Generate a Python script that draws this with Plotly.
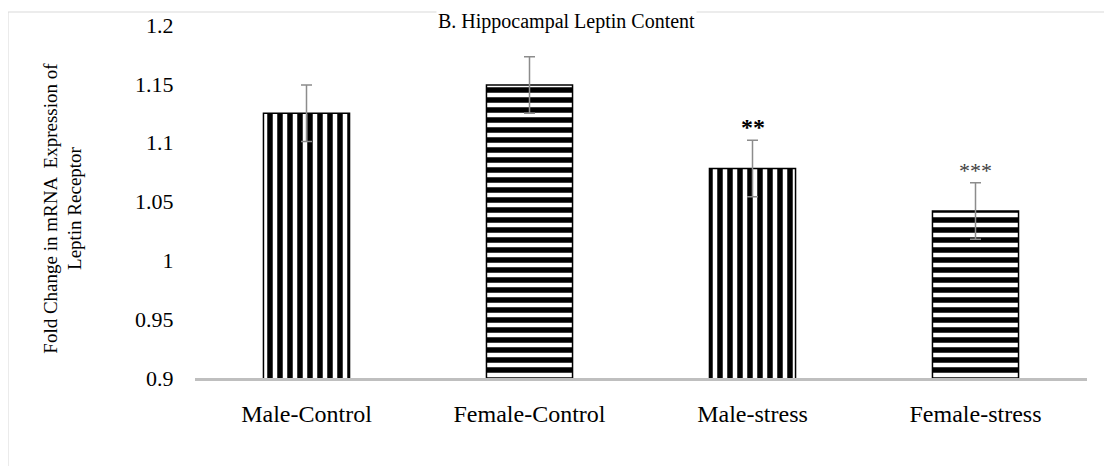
import plotly.graph_objects as go

categories = ["Male-Control", "Female-Control", "Male-stress", "Female-stress"]
values = [1.125, 1.149, 1.078, 1.042]
errors = [0.024, 0.024, 0.024, 0.024]
patterns = ["|", "-", "|", "-"]
significance = ["", "", "<b>**</b>", "***"]
y_ticks = [0.9, 0.95, 1.0, 1.05, 1.1, 1.15, 1.2]
y_tick_text = ["0.9", "0.95", "1", "1.05", "1.1", "1.15", "1.2"]

FONT = "Liberation Serif"
TOP = 17
BOTTOM = 96
PLOT_H = 466 - TOP - BOTTOM

fig = go.Figure()
fig.add_trace(go.Bar(
    x=categories,
    y=values,
    marker=dict(
        color="white",
        line=dict(color="black", width=1.5),
        pattern=dict(shape=patterns, fgcolor="black", bgcolor="white",
                     fgopacity=1, size=10, solidity=0.55),
    ),
    error_y=dict(type="data", array=errors, visible=True,
                 color="#8c8c8c", thickness=1.5, width=5.5),
    showlegend=False,
))

for cat, v, e, s in zip(categories, values, errors, significance):
    if s:
        bold = s.startswith("<b>")
        fig.add_annotation(
            x=cat, y=v + e, xref="x", yref="y", text=s, showarrow=False,
            yanchor="bottom", yshift=-2,
            font=dict(family=FONT, size=24 if bold else 22,
                      color="black" if bold else "#404040"),
        )

# frame
fig.add_shape(type="rect", xref="paper", yref="paper",
              x0=-0.2096, x1=1.05, y0=-0.4, y1=1 + (TOP - 4) / PLOT_H,
              line=dict(color="#d9d9d9", width=1), fillcolor="rgba(0,0,0,0)",
              layer="below")

# title
fig.add_annotation(x=0.417, y=1 + TOP / PLOT_H, xref="paper", yref="paper",
                   text="B. Hippocampal Leptin Content", showarrow=False,
                   xanchor="center", yanchor="top", bgcolor="white",
                   font=dict(family=FONT, size=20, color="black"))

# y-axis title
fig.add_annotation(x=-0.149, y=0.48, xref="paper", yref="paper",
                   text="Fold Change in mRNA  Expression of<br>Leptin Receptor",
                   showarrow=False, textangle=-90,
                   xanchor="center", yanchor="middle",
                   font=dict(family=FONT, size=19, color="black"))

fig.update_layout(
    width=1112, height=466,
    margin=dict(l=187, r=33, t=TOP, b=BOTTOM, autoexpand=False),
    paper_bgcolor="white", plot_bgcolor="white",
    bargap=0.614,
    font=dict(family=FONT, color="black"),
    xaxis=dict(showline=True, linecolor="#bfbfbf", linewidth=3,
               showgrid=False, ticks="outside", ticklen=12,
               tickcolor="rgba(0,0,0,0)", automargin=False,
               tickfont=dict(family=FONT, size=24, color="black")),
    yaxis=dict(range=[0.9, 1.2], tickvals=y_ticks, ticktext=y_tick_text,
               showgrid=False, showline=False, zeroline=False,
               ticks="outside", ticklen=16, tickcolor="rgba(0,0,0,0)",
               ticklabeloverflow="allow", automargin=False,
               tickfont=dict(family=FONT, size=22, color="black")),
)

fig.write_html("out.html")
